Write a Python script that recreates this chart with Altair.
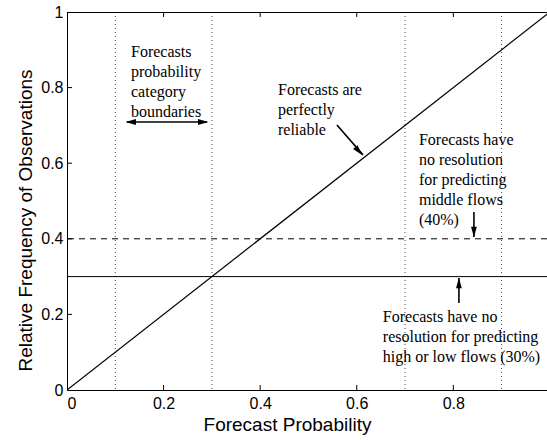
import altair as alt
import pandas as pd

# ---- data ----
diag_x = [0.0, 1.0]
diag_y = [0.0, 1.0]
boundaries = [0.1, 0.3, 0.7, 0.9]
level_solid = [0.3]
level_dashed = [0.4]
x_ticks = [0.0, 0.2, 0.4, 0.6, 0.8]
y_ticks = [0.0, 0.2, 0.4, 0.6, 0.8, 1.0]
inner_ticks = [0.2, 0.4, 0.6, 0.8]

note_texts = [
    "Forecasts\nprobability\ncategory\nboundaries",
    "Forecasts are\nperfectly\nreliable",
    "Forecasts have\nno resolution\nfor predicting\nmiddle flows\n(40%)",
    "Forecasts have no\nresolution for predicting\nhigh or low flows (30%)",
]
note_x = [0.1325, 0.4369, 0.7288, 0.654]
note_y = [0.881, 0.780, 0.648, 0.180]

arrow_x = [0.124, 0.559, 0.8427, 0.8116]
arrow_y = [0.709, 0.701, 0.471, 0.230]
arrow_x2 = [0.290, 0.613, 0.8427, 0.8116]
arrow_y2 = [0.709, 0.622, 0.405, 0.296]

head_x = [0.132, 0.282, 0.604, 0.8427, 0.8116]
head_y = [0.709, 0.709, 0.632, 0.418, 0.283]
head_angle = [270, 90, 140, 180, 0]

W, H = 480, 378
xs = alt.Scale(domain=[0, 0.994], nice=False, zero=False)
ys = alt.Scale(domain=[0, 1], nice=False, zero=False)

diag_df = pd.DataFrame({"x": diag_x, "y": diag_y})
base_x = alt.X("x:Q", scale=xs, axis=alt.Axis(
    values=x_ticks, format="~g", tickSize=0, labelPadding=5, grid=False,
    domainColor="black", labelColor="black", labelFont="Liberation Sans",
    labelFontSize=16, title="Forecast Probability", titleFont="Liberation Sans",
    titleFontSize=19, titleFontWeight="normal", titleColor="black",
    titleX=220, titleY=40, titleBaseline="alphabetic"))
base_y = alt.Y("y:Q", scale=ys, axis=alt.Axis(
    values=y_ticks, format="~g", tickSize=0, labelPadding=4, grid=False,
    domainColor="black", labelColor="black", labelFont="Liberation Sans",
    labelFontSize=16, title="Relative Frequency of Observations",
    titleFont="Liberation Sans", titleFontSize=19, titleFontWeight="normal",
    titleColor="black", titleX=-32, titleY=208, titleBaseline="bottom"))

diag = alt.Chart(diag_df).mark_line(color="black", strokeWidth=1.2, clip=True).encode(
    x=base_x, y=base_y)

vlines = alt.Chart(pd.DataFrame({"b": boundaries})).mark_rule(
    color="#444", strokeWidth=1, strokeDash=[1, 3]).encode(x=alt.X("b:Q", scale=xs))

solid = alt.Chart(pd.DataFrame({"v": level_solid})).mark_rule(
    color="black", strokeWidth=1).encode(y=alt.Y("v:Q", scale=ys))
dashed = alt.Chart(pd.DataFrame({"v": level_dashed})).mark_rule(
    color="black", strokeWidth=1, strokeDash=[6, 5]).encode(y=alt.Y("v:Q", scale=ys))

tick_df = pd.DataFrame({"t": inner_ticks})
bottom_ticks = alt.Chart(tick_df).mark_rule(color="black").encode(
    x=alt.X("t:Q", scale=xs), y=alt.value(H), y2=alt.value(H - 5))
top_ticks = alt.Chart(tick_df).mark_rule(color="black").encode(
    x=alt.X("t:Q", scale=xs), y=alt.value(0), y2=alt.value(5))
left_ticks = alt.Chart(tick_df).mark_rule(color="black").encode(
    y=alt.Y("t:Q", scale=ys), x=alt.value(0), x2=alt.value(5))
top_border = alt.Chart(tick_df).mark_rule(color="black").encode(
    x=alt.value(0), x2=alt.value(W), y=alt.value(0.5))

notes = alt.Chart(pd.DataFrame({"txt": note_texts, "x": note_x, "y": note_y})).mark_text(
    font="Liberation Serif", fontSize=16, align="left", baseline="alphabetic",
    lineBreak="\n", lineHeight=20, color="black").encode(
    x=alt.X("x:Q", scale=xs), y=alt.Y("y:Q", scale=ys), text="txt:N")

shafts = alt.Chart(pd.DataFrame({"x": arrow_x, "y": arrow_y, "x2": arrow_x2, "y2": arrow_y2})).mark_rule(
    color="black", strokeWidth=1.6).encode(
    x=alt.X("x:Q", scale=xs), y=alt.Y("y:Q", scale=ys), x2="x2:Q", y2="y2:Q")

heads = alt.Chart(pd.DataFrame({"x": head_x, "y": head_y, "a": head_angle})).mark_point(
    shape="M0,-1L0.55,1L-0.55,1Z", filled=True, color="black", size=110, opacity=1).encode(
    x=alt.X("x:Q", scale=xs), y=alt.Y("y:Q", scale=ys),
    angle=alt.Angle("a:Q", scale=None))

chart = alt.layer(
    vlines, solid, dashed, diag, bottom_ticks, top_ticks, left_ticks, top_border,
    notes, shafts, heads
).properties(
    width=W, height=H,
    autosize=alt.AutoSizeParams(type="none"),
    padding={"left": 67, "top": 12, "right": 0, "bottom": 50},
    background="white",
).configure_view(strokeWidth=0)

chart.save("out.html", embed_options={"renderer": "svg", "actions": False})
